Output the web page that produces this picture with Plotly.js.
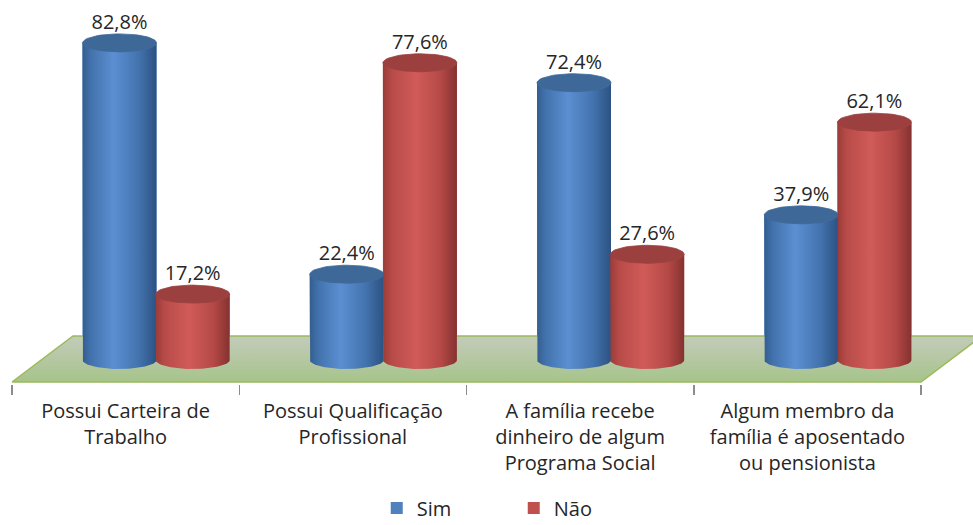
<!DOCTYPE html>
<html>
<head>
<meta charset="utf-8">
<script src="https://cdn.plot.ly/plotly-3.0.1.min.js"></script>
<style>html,body{margin:0;padding:0;background:#fff;}#chart{width:973px;height:525px;}</style>
</head>
<body>
<div id="chart"></div>
<script>
// ---- data ----
const categories = [
  'Possui Carteira de<br>Trabalho',
  'Possui Qualificação<br>Profissional',
  'A família recebe<br>dinheiro de algum<br>Programa Social',
  'Algum membro da<br>família é aposentado<br>ou pensionista'
];
const seriesNames = ['Sim', 'Não'];
const simValues = [82.8, 22.4, 72.4, 37.9];
const naoValues = [17.2, 77.6, 27.6, 62.1];

// ---- geometry / style (not data) ----
const W = 973, H = 525;
const catPx = 227.25, firstTickPx = 12;
const xRange = [-0.5 - firstTickPx / catPx, -0.5 + (W - firstTickPx) / catPx];
const pxPerUnit = 3.83;
const basePx = 360, plotBottomPx = 384;
const yRange = [(basePx - plotBottomPx) / pxPerUnit, basePx / pxPerUnit];
const ax = 37 / catPx;          // cylinder half width (x units)
const by = 9 / pxPerUnit;       // ellipse half height (y units)
const offsets = [-0.027, 0.295];
const floorBottom = (basePx - 382) / pxPerUnit;
const floorTop = (basePx - 336) / pxPerUnit;
const floorShift = 61 / catPx;

const styles = [
  { base: '#4f81bd', cap: '#3e6898',
    grad: [[0, '#335d8f'], [0.12, '#4373ad'], [0.42, '#5b8fd2'], [0.75, '#4474af'], [1, '#2c5282']] },
  { base: '#c0504d', cap: '#9b403e',
    grad: [[0, '#9a3b39'], [0.12, '#b74b48'], [0.45, '#d15b58'], [0.78, '#b54947'], [1, '#853230']] }
];
const fontFam = '"Open Sans", Lato, sans-serif';
const fmt = v => v.toFixed(1).replace('.', ',') + '%';

const traces = [];
const xIdx = categories.map((c, i) => i);

// floor
traces.push({
  type: 'scatter', mode: 'lines',
  x: [-0.5, 3.5, 3.5 + floorShift, -0.5 + floorShift, -0.5],
  y: [floorBottom, floorBottom, floorTop, floorTop, floorBottom],
  fill: 'toself',
  fillgradient: { type: 'vertical', colorscale: [[0, '#a6c48a'], [1, '#c3cbba']] },
  line: { color: '#9bbb59', width: 1.5 },
  hoverinfo: 'skip', showlegend: false
});

// base bars (carry the legend, hidden under the cylinder faces)
[simValues, naoValues].forEach((vals, s) => {
  traces.push({
    type: 'bar', name: seriesNames[s], x: xIdx, y: vals,
    width: 2 * ax, offset: offsets[s] - ax,
    marker: { color: styles[s].base, line: { width: 0 } },
    hoverinfo: 'skip', legendgroup: seriesNames[s]
  });
});

function ellipsePts(cx, cy, t0, t1, n) {
  const xs = [], ys = [];
  for (let k = 0; k <= n; k++) {
    const t = t0 + (t1 - t0) * k / n;
    xs.push(cx + ax * Math.cos(t));
    ys.push(cy + by * Math.sin(t));
  }
  return [xs, ys];
}

xIdx.forEach(i => {
  [simValues, naoValues].forEach((vals, s) => {
    const v = vals[i];
    const cx = i + offsets[s];
    // body
    let bx = [cx - ax, cx - ax], byy = [v, 0];
    let [ex, ey] = ellipsePts(cx, 0, Math.PI, 2 * Math.PI, 40);
    bx = bx.concat(ex); byy = byy.concat(ey);
    bx.push(cx + ax); byy.push(v);
    [ex, ey] = ellipsePts(cx, v, 0, -Math.PI, 40);
    bx = bx.concat(ex); byy = byy.concat(ey);
    traces.push({
      type: 'scatter', mode: 'lines', x: bx, y: byy, fill: 'toself',
      fillgradient: { type: 'horizontal', colorscale: styles[s].grad },
      line: { width: 0 }, hoverinfo: 'skip', showlegend: false
    });
    // cap
    [ex, ey] = ellipsePts(cx, v, 0, 2 * Math.PI, 60);
    traces.push({
      type: 'scatter', mode: 'lines', x: ex, y: ey, fill: 'toself',
      fillcolor: styles[s].cap, line: { width: 0.8, color: styles[s].cap },
      hoverinfo: 'skip', showlegend: false
    });
  });
});

// value labels
[simValues, naoValues].forEach((vals, s) => {
  traces.push({
    type: 'scatter', mode: 'text',
    x: xIdx.map(i => i + offsets[s]), y: vals.map(v => v + by),
    text: vals.map(fmt), textposition: 'top center',
    textfont: { family: fontFam, size: 20, color: '#262626' },
    cliponaxis: false, hoverinfo: 'skip', showlegend: false
  });
});

const layout = {
  width: W, height: H,
  margin: { l: 0, r: 0, t: 0, b: H - plotBottomPx, pad: 0 },
  paper_bgcolor: '#ffffff', plot_bgcolor: 'rgba(0,0,0,0)',
  barmode: 'overlay',
  showlegend: true,
  xaxis: {
    type: 'linear', range: xRange, fixedrange: true,
    tickmode: 'array', tickvals: xIdx, ticktext: categories,
    ticks: '', showgrid: false, zeroline: false, showline: false,
    tickfont: { family: fontFam, size: 20, color: '#262626' },
    ticklabelstandoff: 13,
    minor: { tickmode: 'array', tickvals: [-0.5, 0.5, 1.5, 2.5, 3.5], ticks: 'outside',
             ticklen: 10, tickcolor: '#8c8c8c', tickwidth: 1.5, showgrid: false }
  },
  yaxis: {
    range: yRange, fixedrange: true, visible: false, showgrid: false, zeroline: false
  },
  legend: {
    orientation: 'h', x: 0.528, xanchor: 'center', xref: 'paper',
    yref: 'container', y: 17 / H, yanchor: 'middle',
    font: { family: fontFam, size: 20, color: '#262626' },
    entrywidth: 92, itemclick: false, itemdoubleclick: false
  },
  font: { family: fontFam }
};

Plotly.newPlot('chart', traces, layout, { displayModeBar: false, staticPlot: true });
</script>
</body>
</html>
